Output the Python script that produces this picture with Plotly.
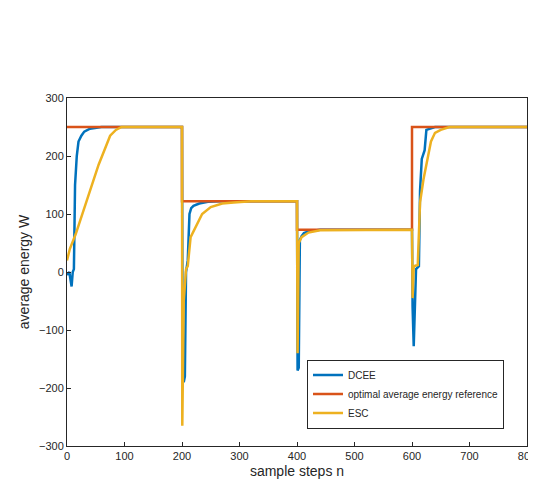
import plotly.graph_objects as go

ref_x = [0, 200, 200, 400, 400, 600, 600, 800]
ref_y = [250, 250, 122, 122, 73, 73, 250, 250]

dcee_x = [0, 4, 8, 10, 12, 14, 17, 20, 25, 30, 40, 50, 60, 200,
          201, 203, 205, 207, 210, 213, 216, 220, 230, 245, 265, 400,
          401, 403, 405, 408, 412, 420, 440, 600,
          601, 603, 605, 607, 612, 614, 617, 622, 625, 640, 800]
dcee_y = [-5, 0, -25, 0, 5, 150, 200, 225, 235, 242, 247, 249, 250, 250,
          -120, -190, -180, 0, 20, 100, 110, 114, 118, 121, 122, 122,
          -170, -165, 55, 62, 67, 70, 73, 73,
          -60, -128, -30, 5, 10, 140, 195, 210, 245, 250, 250]

esc_x = [0, 5, 15, 25, 35, 45, 55, 65, 75, 85, 95, 110, 200,
         200.5, 203, 207, 210, 215, 225, 235, 250, 270, 290, 320, 400,
         401, 403, 408, 420, 440, 600,
         601, 603, 610, 614, 620, 628, 633, 640, 650, 665, 800]
esc_y = [20, 40, 65, 95, 125, 155, 185, 210, 235, 245, 250, 250, 250,
         -265, -50, 5, 10, 60, 80, 100, 112, 118, 120, 122, 122,
         -140, 50, 60, 68, 72, 73,
         -45, 10, 12, 120, 160, 200, 225, 240, 245, 250, 250]

fig = go.Figure()
fig.add_trace(go.Scatter(x=dcee_x, y=dcee_y, mode="lines", name="DCEE",
                         line=dict(color="#0072BD", width=2.5)))
fig.add_trace(go.Scatter(x=ref_x, y=ref_y, mode="lines", name="optimal average energy reference",
                         line=dict(color="#D95319", width=2.5)))
fig.add_trace(go.Scatter(x=esc_x, y=esc_y, mode="lines", name="ESC",
                         line=dict(color="#EDB120", width=2.5)))

ax = dict(showgrid=False, zeroline=False, showline=True, mirror=True, linecolor="#262626",
          linewidth=1, ticks="inside", ticklen=4, tickcolor="#262626", automargin=False,
          tickfont=dict(family="Liberation Sans, Arial", size=11, color="#262626"))
fig.update_layout(
    width=536, height=488, paper_bgcolor="white", plot_bgcolor="white",
    margin=dict(l=59, r=17, t=90, b=50, autoexpand=False),
    font=dict(family="Liberation Sans, Arial", size=12, color="#262626"),
    xaxis=dict(range=[0, 800], dtick=100, title=dict(text="sample steps n", standoff=4), **ax),
    yaxis=dict(range=[-300, 300], dtick=100, title=dict(text="average energy W", standoff=6), **ax),
    legend=dict(x=0.95, y=0.05, xanchor="right", yanchor="bottom", bordercolor="#262626",
                borderwidth=1, bgcolor="white", font=dict(size=10), tracegroupgap=0,
                itemwidth=30),
    showlegend=True,
)
fig.write_html("out.html")
